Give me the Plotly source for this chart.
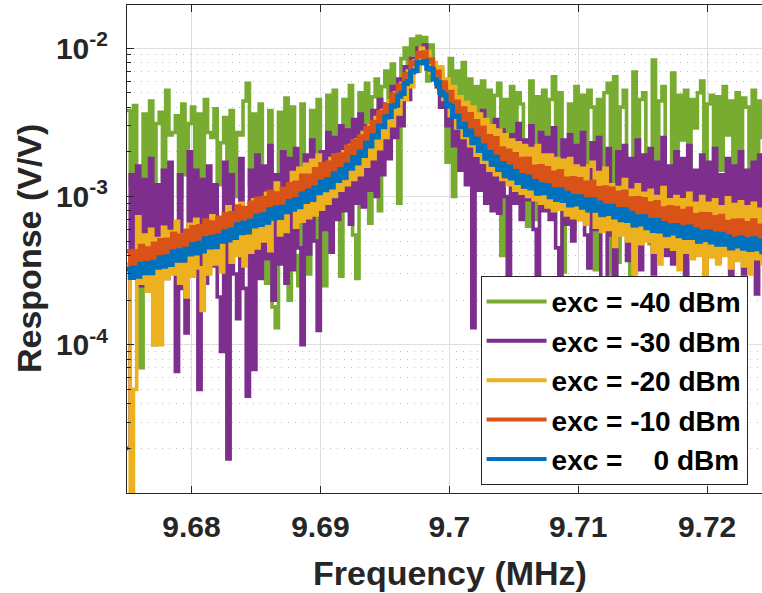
import numpy as np
import plotly.graph_objects as go

# ---------------- data (response values in units of 1e-4 V/V) ----------------
UNIT = 1e-4
SWEEP_START, SWEEP_STOP, N_POINTS = 9.675, 9.725, 201   # frequency sweep (MHz)
freq = np.linspace(SWEEP_START, SWEEP_STOP, N_POINTS)

resp_m40 = [  # exc = -40 dBm
    38, 12, 41, 14, 0.7, 36, 11, 44, 1.0, 31,
    37, 13, 52, 26, 27, 35, 10, 42, 14, 31,
    40, 9, 36, 13, 45, 27, 25, 39, 12, 23,
    34, 14, 38, 10, 27, 26, 44, 58, 12, 36,
    11, 42, 15, 2.6, 38, 1.8, 1.3, 37, 12, 46,
    2.0, 40, 4.0, 2.5, 42, 14, 3.0, 38, 5.0, 45,
    13, 2.5, 48, 7.5, 52, 16, 2.9, 45, 14, 56,
    5.5, 2.8, 50, 18, 58, 6.6, 47, 62, 8.0, 55,
    70, 25, 78, 40, 9.0, 85, 100, 60, 115, 90,
    120, 80, 118, 60, 105, 75, 55, 70, 45, 17,
    85, 10, 70, 24, 80, 15, 62, 12, 55, 30,
    60, 12, 52, 20, 48, 58, 4.0, 45, 14, 55,
    18, 50, 42, 12, 6.3, 60, 7.0, 47, 16, 52,
    13, 45, 64, 18, 50, 3.1, 7.0, 42, 6.0, 55,
    16, 48, 12, 52, 40, 3.2, 45, 14, 50, 58,
    3.0, 64, 3.6, 40, 52, 12, 2.9, 69, 15, 45,
    50, 11, 4.8, 83, 16, 44, 55, 12, 4.7, 68,
    14, 48, 24, 52, 12, 45, 29, 50, 60, 13,
    42, 48, 11, 47, 15, 55, 26, 44, 12, 50,
    14, 46, 40, 11, 52, 16, 44, 25, 48, 12,
    42]

resp_m30 = [  # exc = -30 dBm
    0.2, 14, 3.0, 16, 2.5, 13, 3.5, 18, 2.2, 12,
    3.2, 15, 2.8, 17, 3.6, 0.66, 14, 2.4, 1.2, 20,
    3.0, 15, 0.5, 13, 2.6, 16, 3.4, 12, 2.1, 0.9,
    17, 0.17, 14, 3.0, 1.5, 18, 2.4, 0.45, 15, 0.68,
    19, 2.8, 16, 3.8, 22, 2.0, 14, 3.5, 20, 2.6,
    18, 3.2, 21, 4.5, 1.0, 19, 4.1, 24, 5.0, 1.25,
    20, 6.0, 27, 4.2, 25, 7.0, 30, 8.0, 28, 6.5,
    33, 9.0, 36, 8.5, 30, 11, 38, 10, 45, 14,
    42, 18, 55, 25, 62, 30, 75, 45, 85, 70,
    100, 92, 105, 75, 80, 71, 55, 40, 60, 30,
    52, 22, 43, 15, 40, 12, 36, 1.3, 34, 11,
    38, 9, 30, 8, 33, 7.7, 28, 10, 1.5, 26,
    9, 31, 7, 24, 9.5, 30, 6, 2.2, 27, 8,
    25, 7, 29, 4.5, 2.7, 24, 6.5, 26, 5.0, 22,
    7, 27, 5.5, 3.3, 23, 6, 25, 2.5, 2.0, 21,
    5.5, 2.7, 20, 6, 22, 3.7, 18, 5, 24, 3.2,
    19, 6, 21, 3.0, 17, 5.5, 25, 4.0, 16, 3.5,
    20, 5, 18, 2.8, 22, 4.5, 15, 6, 19, 3.0,
    17, 5, 21, 3.6, 14, 4.2, 18, 2.5, 16, 5.0,
    20, 3.0, 15, 4.5, 17, 2.2, 19, 4, 14, 3.5,
    16]

resp_m20 = [  # exc = -20 dBm
    3.5, 0.05, 0.5, 7.3, 2.6, 5.5, 2.3, 6.0, 1.0, 5.2,
    1.0, 6.2, 2.8, 5.8, 3.0, 6.8, 2.6, 5.5, 2.1, 6.5,
    2.9, 7.0, 3.3, 1.7, 6.2, 3.0, 7.4, 3.5, 6.6, 3.1,
    7.5, 8.5, 3.6, 6.8, 4.0, 9.0, 3.4, 7.8, 4.2, 9.5,
    4.5, 8.8, 5.0, 10.5, 4.3, 9.5, 12.3, 5.5, 10.0, 5.8,
    11.5, 14.5, 6.2, 15.5, 6.8, 16.5, 7.2, 17.5, 7.5, 19,
    8.2, 16.5, 9.0, 18, 10, 19, 11, 20, 12, 22,
    13, 24, 14, 27, 16, 30, 18, 34, 21, 38,
    25, 44, 30, 50, 36, 58, 45, 70, 55, 82,
    70, 100, 78, 95, 68, 80, 58, 75, 45, 62,
    35, 55, 29, 47, 25, 43, 22, 40, 19, 36,
    17, 33, 15, 30, 14, 28, 13, 26, 12, 24,
    11, 23, 10.5, 22, 10, 21, 9.5, 22, 9, 19,
    8.5, 19, 8, 18, 8.2, 17.5, 7.5, 18, 7.2, 16,
    7, 15.5, 6.5, 16, 17, 6.2, 14.5, 5.8, 15.5, 6,
    12, 4.6, 11.5, 5.5, 13, 5, 11, 3.0, 12, 4.8,
    10.5, 5, 11, 4.2, 10, 3.5, 11.5, 4.6, 9.5, 4.4,
    10, 3.2, 9.5, 4.2, 10.5, 3.8, 9, 4.0, 10, 2.9,
    9, 3.9, 9.5, 3.5, 8.5, 4.0, 9.8, 3.3, 8.8, 3.7,
    9.2, 3.4, 8.5, 3.0, 9.0, 3.8, 8.2, 3.5, 8.7, 3.6,
    8.5]

resp_m10 = [  # exc = -10 dBm
    4.26, 2.99, 4.28, 2.9, 4.64, 3.32, 4.46, 3.03, 4.8, 3.5,
    5.07, 3.56, 5.11, 3.48, 5.61, 4.03, 5.44, 3.69, 5.88, 4.3,
    6.22, 4.38, 6.31, 4.29, 6.89, 4.95, 6.68, 4.55, 7.21, 5.25,
    7.6, 5.36, 7.73, 5.29, 8.56, 6.17, 8.37, 5.72, 9.1, 6.65,
    9.66, 6.81, 9.8, 6.69, 10.8, 7.75, 10.5, 7.16, 11.3, 8.3,
    12.1, 8.62, 12.4, 8.51, 13.8, 10.0, 13.8, 9.45, 15.3, 11.2,
    16.5, 11.7, 17.0, 11.6, 18.9, 13.9, 19.2, 13.3, 21.7, 16.3,
    23.6, 17.5, 25.4, 19.1, 29.0, 23.0, 31.9, 25.7, 37.1, 30.7,
    41.3, 36.0, 48.8, 43.4, 56.1, 53.0, 67.2, 64.6, 80.4, 77.6,
    92.8, 88.0, 93.6, 80.8, 84.0, 66.7, 69.5, 53.6, 58.8, 43.9,
    50.7, 36.0, 43.6, 30.1, 39.2, 27.5, 35.9, 23.3, 32.2, 21.7,
    29.1, 19.1, 25.5, 16.3, 24.7, 16.6, 21.1, 13.6, 20.4, 14.1,
    19.3, 13.0, 17.9, 11.7, 18.0, 12.3, 15.9, 10.4, 16.0, 11.2,
    15.5, 10.5, 14.5, 9.52, 14.8, 10.2, 13.2, 8.69, 13.3, 9.35,
    13.1, 8.89, 12.4, 8.11, 12.6, 8.74, 11.4, 7.49, 11.5, 8.07,
    11.3, 7.66, 10.6, 6.96, 10.8, 7.47, 9.72, 6.36, 9.73, 6.85,
    9.59, 6.49, 8.97, 5.89, 9.14, 6.34, 8.3, 5.49, 8.47, 5.97,
    8.38, 5.73, 8.0, 5.29, 8.27, 5.73, 7.49, 4.95, 7.63, 5.4,
    7.6, 5.19, 7.25, 4.76, 7.4, 5.15, 6.75, 4.46, 6.86, 4.87,
    6.89, 4.72, 6.62, 4.39, 6.89, 4.81, 6.35, 4.2, 6.51, 4.62,
    6.53]

resp_0 = [  # exc = 0 dBm
    3.24, 2.84, 3.29, 2.9, 3.49, 3.06, 3.53, 3.07, 3.6, 3.33,
    3.86, 3.38, 3.92, 3.48, 4.22, 3.71, 4.31, 3.73, 4.41, 4.09,
    4.73, 4.16, 4.84, 4.29, 5.18, 4.56, 5.3, 4.6, 5.41, 4.99,
    5.78, 5.09, 5.94, 5.29, 6.43, 5.69, 6.63, 5.78, 6.83, 6.32,
    7.34, 6.46, 7.53, 6.69, 8.12, 7.14, 8.35, 7.23, 8.5, 7.89,
    9.23, 8.18, 9.54, 8.51, 10.4, 9.26, 10.9, 9.56, 11.4, 10.6,
    12.5, 11.1, 13.0, 11.6, 14.2, 12.8, 15.2, 13.5, 16.3, 15.5,
    18.3, 16.8, 19.9, 18.9, 22.8, 21.9, 25.7, 25.2, 29.9, 29.5,
    34.3, 34.6, 40.6, 41.2, 47.4, 49.5, 57.7, 59.7, 69.0, 70.3,
    79.6, 79.9, 81.6, 73.2, 72.1, 61.6, 58.7, 50.4, 48.4, 41.7,
    40.6, 34.6, 34.7, 29.5, 30.5, 26.1, 27.6, 23.0, 24.4, 20.4,
    21.9, 18.1, 19.8, 16.5, 18.4, 15.2, 16.7, 13.9, 15.8, 13.3,
    14.7, 12.4, 13.8, 11.7, 13.5, 11.4, 12.6, 10.6, 12.0, 10.6,
    11.8, 9.95, 11.1, 9.52, 11.1, 9.4, 10.5, 8.78, 9.98, 8.88,
    9.94, 8.44, 9.49, 8.11, 9.48, 8.06, 9.04, 7.57, 8.61, 7.67,
    8.59, 7.27, 8.16, 6.96, 8.12, 6.88, 7.7, 6.43, 7.3, 6.51,
    7.29, 6.16, 6.89, 5.89, 6.87, 5.85, 6.58, 5.55, 6.35, 5.67,
    6.37, 5.44, 6.15, 5.29, 6.21, 5.28, 5.94, 5.0, 5.72, 5.13,
    5.78, 4.93, 5.57, 4.76, 5.56, 4.75, 5.35, 4.5, 5.15, 4.63,
    5.24, 4.48, 5.09, 4.39, 5.18, 4.44, 5.03, 4.25, 4.88, 4.39,
    4.97]

labels = ["exc = -40 dBm", "exc = -30 dBm", "exc = -20 dBm", "exc = -10 dBm",
          "exc =\u00a0\u00a0\u00a0\u00a00 dBm"]
colors = ["#77AC30", "#7E2F8E", "#EDB120", "#D95319", "#0072BD"]
widths = [3.6, 3.6, 3.6, 4.2, 5.0]

x_ticks = [9.68, 9.69, 9.70, 9.71, 9.72]
x_ticktext = ["9.68", "9.69", "9.7", "9.71", "9.72"]
y_ticks = [1e-4, 1e-3, 1e-2]
y_ticktext = ["10<sup>-4</sup>", "10<sup>-3</sup>", "10<sup>-2</sup>"]
y_minor = [m * d for d in (1e-5, 1e-4, 1e-3) for m in range(2, 10)]

# ---------------- figure ----------------
FONT = "Liberation Sans, Arial, Helvetica, sans-serif"
TXT = "#262626"

series = [resp_m40, resp_m30, resp_m20, resp_m10, resp_0]

fig = go.Figure()
for vals, col, w in zip(series, colors, widths):
    fig.add_trace(go.Scatter(
        x=freq, y=[v * UNIT for v in vals], mode="lines",
        line=dict(color=col, width=w, shape="hv"),
        showlegend=False, hoverinfo="skip"))
for lab, col in zip(labels, colors):
    fig.add_trace(go.Scatter(x=[None], y=[None], mode="lines", name=lab,
                             line=dict(color=col, width=4)))

fig.update_layout(
    width=762, height=593,
    margin=dict(l=127, r=0, t=5, b=100),
    plot_bgcolor="white", paper_bgcolor="white",
    font=dict(family=FONT, color=TXT),
    legend=dict(
        x=0.9773, y=0.017, xanchor="right", yanchor="bottom",
        bgcolor="white", bordercolor=TXT, borderwidth=1,
        font=dict(family=FONT, size=28, color="black", weight="bold"),
        tracegroupgap=0, itemwidth=60,
    ),
    annotations=[
        dict(text="Frequency (MHz)", x=0.5087, y=-0.164, xref="paper", yref="paper",
             xanchor="center", yanchor="middle", showarrow=False,
             font=dict(family=FONT, size=34, color=TXT, weight="bold")),
        dict(text="Response (V/V)", x=-0.1543, y=0.5, xref="paper", yref="paper",
             xanchor="center", yanchor="middle", showarrow=False, textangle=-90,
             font=dict(family=FONT, size=34, color=TXT, weight="bold")),
    ],
)

fig.update_xaxes(
    range=[9.675, 9.72426], tickmode="array", tickvals=x_ticks, ticktext=x_ticktext,
    ticks="inside", ticklen=7, tickcolor=TXT, tickwidth=1,
    showline=True, linecolor=TXT, linewidth=1, mirror="ticks",
    showgrid=True, gridcolor="#DEDEDE", gridwidth=1, zeroline=False,
    tickfont=dict(family=FONT, size=30, color=TXT, weight="bold"),
    ticklabelstandoff=7,
)
fig.update_yaxes(
    type="log", range=[-5, -1.709], tickmode="array", tickvals=y_ticks, ticktext=y_ticktext,
    ticks="inside", ticklen=7, tickcolor=TXT, tickwidth=1,
    showline=True, linecolor=TXT, linewidth=1, mirror=False,
    showgrid=True, gridcolor="#DEDEDE", gridwidth=1, zeroline=False,
    tickfont=dict(family=FONT, size=30, color=TXT, weight="bold"),
    ticklabelstandoff=12,
    minor=dict(tickmode="array", tickvals=y_minor, ticks="inside", ticklen=4,
               tickcolor=TXT, showgrid=True, gridcolor="#BDBDBD", griddash="1px,6px",
               gridwidth=1),
)

fig.write_html("out.html")
